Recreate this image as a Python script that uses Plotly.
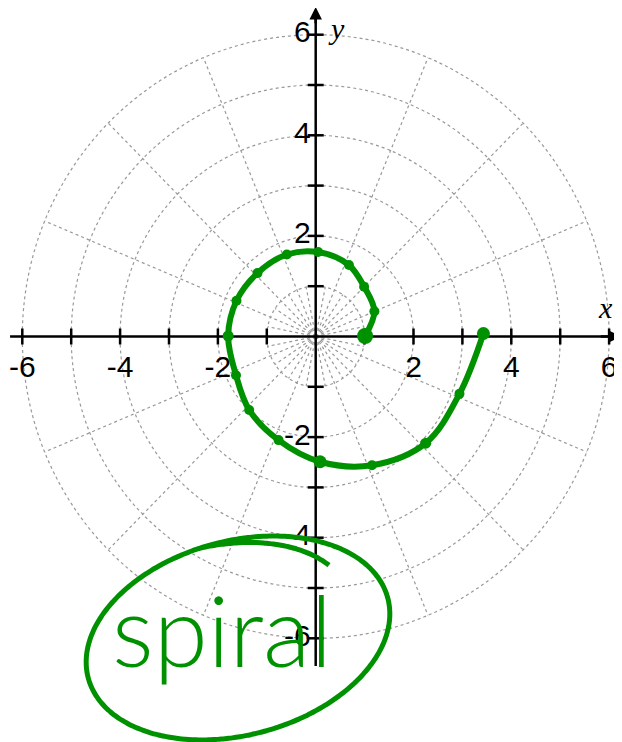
import numpy as np
import plotly.graph_objects as go

# the page keeps the browser's 8px body margin, so the figure is sized to fit inside it
W, H = 622, 742
PAD = 8
FIG_W, FIG_H = W - PAD, H - PAD

# green spiral, points (axis units)
spiral_x = [1.01, 1.2, 0.99, 0.68, 0.05, -0.59, -1.19, -1.62, -1.79, -1.63, -1.36, -0.76, 0.09, 1.15, 2.25, 2.94, 3.43]
spiral_y = [0.01, 0.5, 0.99, 1.42, 1.68, 1.63, 1.26, 0.71, 0.01, -0.77, -1.46, -2.06, -2.49, -2.56, -2.12, -1.14, 0.06]
dot_sizes = [16, 10, 10, 10, 10, 10, 10, 10, 11, 10, 10, 10, 13, 10, 11, 10, 13]

# polar grid
grid_radii = [1, 2, 3, 4, 5, 6]
spoke_angles = [k * 22.5 for k in range(16)]
inner_spoke_angles = [k * 22.5 + 11.25 for k in range(16)]

# cartesian axes
tick_values = [-6, -5, -4, -3, -2, -1, 1, 2, 3, 4, 5, 6]
label_values = [-6, -4, -2, 2, 4, 6]
tick_labels = ["-6", "-4", "-2", "2", "4", "6"]

note_text = "spiral"

# pixel position of the origin and pixels per unit in the picture
ox, oy = 315.7, 336.5
ux, uy = 48.9, 50.3


def to_xy(px, py):
    return (px - ox) / ux, (oy - py) / uy


green = "rgb(0,145,0)"
grid_col = "#999999"
grid_line = dict(color=grid_col, width=1.2, dash="3px,3px")

shapes = []
for r in grid_radii:
    shapes.append(dict(type="circle", xref="x", yref="y", x0=-r, x1=r, y0=-r, y1=r,
                       line=grid_line, layer="below"))
for a in spoke_angles:
    t = np.radians(a)
    shapes.append(dict(type="line", xref="x", yref="y", x0=0, y0=0,
                       x1=6 * np.cos(t), y1=6 * np.sin(t), line=grid_line, layer="below"))
for a in inner_spoke_angles:
    t = np.radians(a)
    shapes.append(dict(type="line", xref="x", yref="y", x0=0, y0=0,
                       x1=np.cos(t), y1=np.sin(t), line=grid_line, layer="below"))

# axes and ticks
axis_line = dict(color="black", width=2.5)
shapes.append(dict(type="line", xref="x", yref="y", x0=-6.25, y0=0, x1=6.1, y1=0,
                   line=axis_line, layer="below"))
shapes.append(dict(type="line", xref="x", yref="y", x0=0, y0=-6.55, x1=0, y1=6.45,
                   line=axis_line, layer="below"))
for v in tick_values:
    shapes.append(dict(type="line", xref="x", yref="y", x0=v, x1=v, y0=-8 / uy, y1=8 / uy,
                       line=axis_line, layer="below"))
    shapes.append(dict(type="line", xref="x", yref="y", y0=v, y1=v, x0=-8 / ux, x1=8 / ux,
                       line=axis_line, layer="below"))

fig = go.Figure()

# tick labels (drawn under the green ink)
label_font = dict(size=30, family="Liberation Sans, Arial", color="black")
fig.add_trace(go.Scatter(x=label_values, y=[-0.66] * len(label_values), mode="text",
                         text=tick_labels, textfont=label_font, cliponaxis=False))
fig.add_trace(go.Scatter(x=[-0.1] * len(label_values), y=label_values, mode="text",
                         text=tick_labels, textposition="middle left", textfont=label_font,
                         cliponaxis=False))

# the spiral
fig.add_trace(go.Scatter(x=spiral_x, y=spiral_y, mode="lines+markers",
                         line=dict(color=green, width=6, shape="spline", smoothing=1),
                         marker=dict(size=dot_sizes, color=green, opacity=1,
                                     line=dict(width=0))))

# hand-drawn loop around the note
cx, cy = 238, 638
a_px, b_px, tilt = 155, 97, np.radians(15)
t = np.radians(np.linspace(35, 455, 300))
scale = np.where(t < np.radians(95), 0.84 + 0.16 * (t - np.radians(35)) / np.radians(60), 1.0)
ex = cx + scale * (a_px * np.cos(t) * np.cos(tilt) - b_px * np.sin(t) * np.sin(tilt))
ey = cy + scale * (-a_px * np.cos(t) * np.sin(tilt) - b_px * np.sin(t) * np.cos(tilt))
lx, ly = to_xy(ex, ey)
fig.add_trace(go.Scatter(x=lx, y=ly, mode="lines",
                         line=dict(color=green, width=5, shape="spline")))

annotations = []
# arrow tips
annotations.append(dict(x=6.24, y=0, ax=5.8, ay=0, xref="x", yref="y", axref="x", ayref="y",
                        showarrow=True, arrowhead=2, arrowsize=1, arrowwidth=2.5,
                        arrowcolor="black", text=""))
annotations.append(dict(x=0, y=6.55, ax=0, ay=6.2, xref="x", yref="y", axref="x", ayref="y",
                        showarrow=True, arrowhead=2, arrowsize=1, arrowwidth=2.5,
                        arrowcolor="black", text=""))
annotations.append(dict(x=5.93, y=0.57, xref="x", yref="y", text="<i>x</i>", showarrow=False,
                        font=dict(size=30, family="Liberation Serif, Times New Roman", color="black")))
annotations.append(dict(x=0.42, y=6.13, xref="x", yref="y", text="<i>y</i>", showarrow=False,
                        font=dict(size=30, family="Liberation Serif, Times New Roman", color="black")))
nx, ny = to_xy(222, 629)
annotations.append(dict(x=nx, y=ny, xref="x", yref="y", text=note_text, showarrow=False,
                        font=dict(size=98, family="Lato", color=green, weight=300)))

fig.update_layout(
    width=FIG_W, height=FIG_H,
    margin=dict(l=0, r=0, t=0, b=0),
    paper_bgcolor="white", plot_bgcolor="white",
    showlegend=False, hovermode=False,
    xaxis=dict(range=[(PAD - ox) / ux, (W - ox) / ux], visible=False, fixedrange=True),
    yaxis=dict(range=[-(H - oy) / uy, (oy - PAD) / uy], visible=False, fixedrange=True),
    shapes=shapes,
    annotations=annotations,
)

fig.write_html("out.html")
